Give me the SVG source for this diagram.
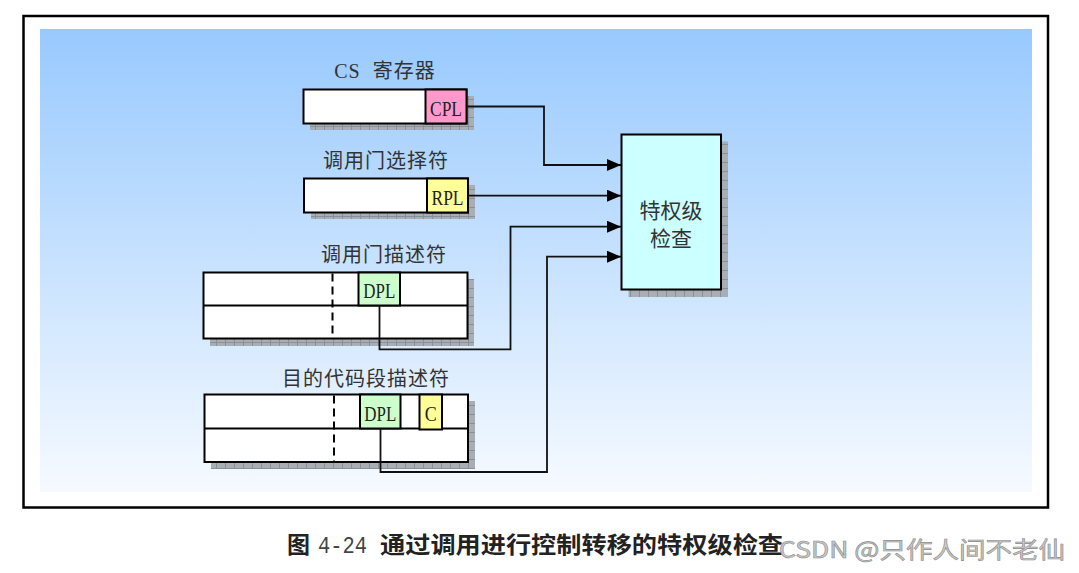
<svg xmlns="http://www.w3.org/2000/svg" width="1079" height="573" viewBox="0 0 1079 573">
<defs>
<linearGradient id="bg" x1="0" y1="0" x2="0" y2="1">
<stop offset="0" stop-color="#98c9fe"/>
<stop offset="1" stop-color="#f6faff"/>
</linearGradient>
<pattern id="sh" width="9" height="9" patternUnits="userSpaceOnUse">
<rect width="9" height="9" fill="#a9aeb4"/>
<path d="M0 0.5H9M0.5 0V9" stroke="#8a9098" stroke-width="1"/>
</pattern>
<marker id="ah" markerWidth="14" markerHeight="12" refX="14" refY="6" orient="auto" markerUnits="userSpaceOnUse">
<path d="M0 0L14 6L0 12z" fill="#000"/>
</marker>
<style>
.box{fill:#fff;stroke:#000;stroke-width:2}
.shd{fill:url(#sh)}
.ln{fill:none;stroke:#000;stroke-width:2}
.dash{fill:none;stroke:#000;stroke-width:2;stroke-dasharray:8 5}
.con{fill:none;stroke:#111;stroke-width:1.8}
.lbl{font-family:"Liberation Serif","Noto Sans CJK SC",serif;font-size:20px;fill:#333;letter-spacing:1px}
.fld{font-family:"Liberation Serif",serif;font-size:22px;fill:#222}
</style>
</defs>
<rect x="23.5" y="16" width="1024.5" height="491.5" fill="#fff" stroke="#000" stroke-width="2.5"/>
<rect x="40" y="29" width="992" height="463" fill="url(#bg)"/>

<g id="cs-register">
<text class="lbl" x="385" y="78" text-anchor="middle" xml:space="preserve">CS  寄存器</text>
<rect class="shd" x="310" y="96" width="164" height="34"/>
<rect class="box" x="303.5" y="89.5" width="163" height="34"/>
<rect x="425.5" y="89.5" width="41" height="34" fill="#ff99cc" stroke="#000" stroke-width="2"/>
<text class="fld" x="446" y="116" text-anchor="middle" textLength="32" lengthAdjust="spacingAndGlyphs">CPL</text>
</g>

<g id="gate-selector">
<text class="lbl" x="386" y="168" text-anchor="middle">调用门选择符</text>
<rect class="shd" x="311" y="185" width="164" height="34"/>
<rect class="box" x="304" y="178.5" width="164" height="34"/>
<rect x="427" y="178.5" width="41" height="34" fill="#ffff99" stroke="#000" stroke-width="2"/>
<text class="fld" x="447.5" y="205" text-anchor="middle" textLength="32" lengthAdjust="spacingAndGlyphs">RPL</text>
</g>

<g id="gate-descriptor">
<text class="lbl" x="384" y="262" text-anchor="middle">调用门描述符</text>
<rect class="shd" x="210" y="279" width="264" height="67"/>
<rect class="box" x="203.5" y="272.5" width="264" height="66"/>
<line class="ln" x1="203.5" y1="305.5" x2="467.5" y2="305.5"/>
<line class="dash" x1="332.5" y1="273.5" x2="332.5" y2="338"/>
<rect x="358.5" y="272.5" width="41.5" height="33" fill="#ccffcc" stroke="#000" stroke-width="2"/>
<text class="fld" x="379.3" y="298" text-anchor="middle" textLength="32" lengthAdjust="spacingAndGlyphs">DPL</text>
</g>

<g id="code-descriptor">
<text class="lbl" x="366" y="386" text-anchor="middle">目的代码段描述符</text>
<rect class="shd" x="211" y="401" width="264" height="68"/>
<rect class="box" x="204.5" y="394.5" width="263.5" height="67.5"/>
<line class="ln" x1="204.5" y1="428.5" x2="468" y2="428.5"/>
<line class="dash" x1="334" y1="395.5" x2="334" y2="461"/>
<rect x="360" y="394.5" width="40.5" height="34" fill="#ccffcc" stroke="#000" stroke-width="2"/>
<text class="fld" x="380.3" y="421" text-anchor="middle" textLength="32" lengthAdjust="spacingAndGlyphs">DPL</text>
<rect x="419.5" y="394.5" width="22.5" height="35" fill="#ffff99" stroke="#000" stroke-width="2"/>
<text class="fld" x="430.8" y="421" text-anchor="middle" textLength="12" lengthAdjust="spacingAndGlyphs">C</text>
</g>

<g id="privilege-check">
<rect class="shd" x="628.5" y="141.5" width="99.5" height="155.5"/>
<rect x="621.5" y="134.5" width="99.5" height="155" fill="#ccffff" stroke="#000" stroke-width="2"/>
<text x="671" y="218" text-anchor="middle" font-family="Noto Sans CJK SC, sans-serif" font-size="21" fill="#333">特权级</text>
<text x="671" y="246" text-anchor="middle" font-family="Noto Sans CJK SC, sans-serif" font-size="21" fill="#333">检查</text>
</g>

<g id="connectors">
<path class="con" d="M467 106.5H544V165H621" marker-end="url(#ah)"/>
<path class="con" d="M468 195.7H621" marker-end="url(#ah)"/>
<path class="con" d="M379.5 305.5V349.3H510.5V226.7H621" marker-end="url(#ah)"/>
<path class="con" d="M380.5 428.5V472H547V256.7H621" marker-end="url(#ah)"/>
</g>

<g id="caption">
<text x="287" y="553" font-family="Noto Sans CJK SC, sans-serif" font-weight="bold" font-size="23" fill="#222">图</text>
<text x="318" y="553" font-family="Liberation Mono, monospace" font-size="24" fill="#444" textLength="49" lengthAdjust="spacingAndGlyphs">4-24</text>
<text x="380" y="553" font-family="Noto Sans CJK SC, sans-serif" font-weight="bold" font-size="23" fill="#222" textLength="403" lengthAdjust="spacingAndGlyphs">通过调用进行控制转移的特权级检查</text>
<text x="779" y="558" font-family="Noto Sans CJK SC, sans-serif" font-size="23" fill="#c8c8c8" stroke="#8c8c8c" stroke-width="0.6" textLength="286" lengthAdjust="spacingAndGlyphs">CSDN @只作人间不老仙</text>
</g>
</svg>
